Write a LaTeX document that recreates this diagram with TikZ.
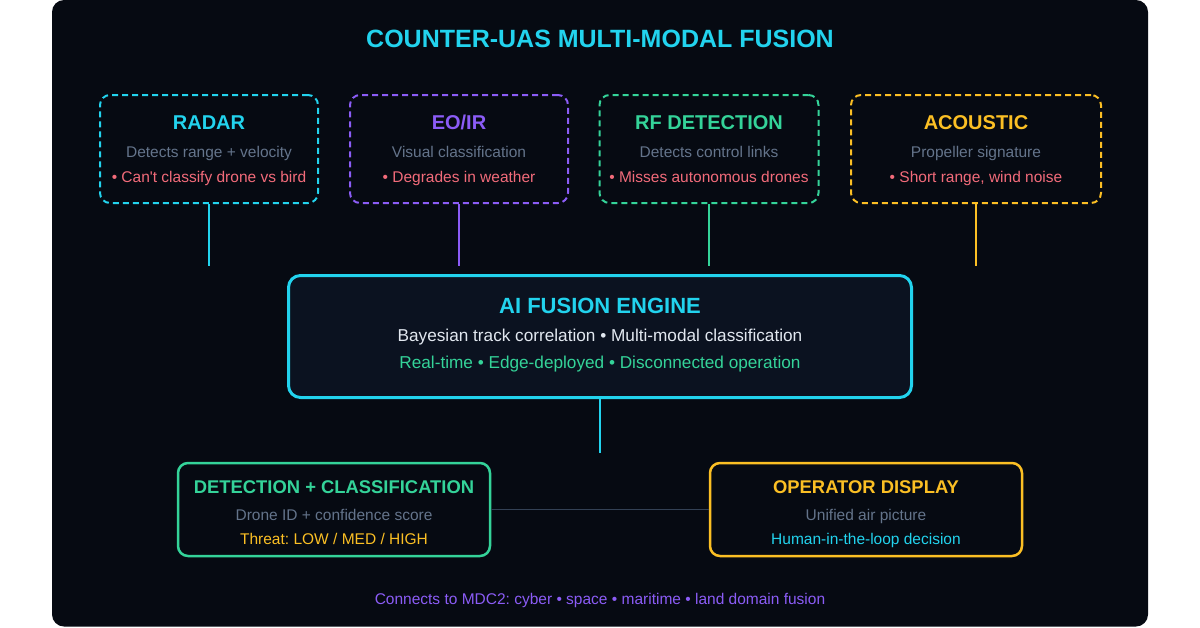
\documentclass[tikz,border=0pt]{standalone}
\usepackage{fontspec}
\setmainfont{Liberation Sans}
\frenchspacing
\usetikzlibrary{positioning}

\definecolor{panelbg}{HTML}{060A12}
\definecolor{enginebg}{HTML}{0B1220}
\definecolor{cyanc}{HTML}{22D3EE}
\definecolor{violetc}{HTML}{8B5CF6}
\definecolor{greenc}{HTML}{34D399}
\definecolor{amberc}{HTML}{FBBF24}
\definecolor{flawc}{HTML}{F26B7A}
\definecolor{greyc}{HTML}{64748B}
\definecolor{lightc}{HTML}{E2E8F0}
\definecolor{linkc}{HTML}{334155}

\begin{document}
\begin{tikzpicture}[
    x=1pt, y=-1pt,
    sensor/.style={rectangle, draw, dash pattern=on 6pt off 4pt, line width=2pt, rounded corners=10pt, minimum height=108pt, fill=panelbg},
    engine/.style={rectangle, draw=cyanc, line width=3pt, rounded corners=12pt, minimum width=623pt, minimum height=122pt, fill=enginebg},
    outcome/.style={rectangle, draw, line width=2.5pt, rounded corners=10pt, minimum width=312pt, minimum height=93pt, fill=panelbg},
    head/.style={anchor=base, inner sep=0pt, font=\fontsize{20}{24}\selectfont\bfseries},
    subhead/.style={anchor=base, inner sep=0pt, font=\fontsize{18.4}{22}\selectfont\bfseries},
    note/.style={anchor=base, inner sep=0pt, font=\fontsize{15.5}{19}\selectfont, text=greyc},
    flaw/.style={anchor=base, inner sep=0pt, font=\fontsize{15.5}{19}\selectfont, text=flawc},
    feed/.style={line width=1.5pt}
]
    \useasboundingbox (0,0) rectangle (1200,627);
    \fill[white] (0,0) rectangle (1200,627);
    \fill[panelbg, rounded corners=12pt] (52,0) rectangle (1148,626.5);

    \node[anchor=base, inner sep=0pt, font=\fontsize{25}{30}\selectfont\bfseries, text=cyanc] (title) at (600,47) {COUNTER-UAS MULTI-MODAL FUSION};

    % Sensors
    \node[sensor, draw=cyanc, minimum width=218pt] (radar) at (209,149) {};
    \node[sensor, draw=violetc, minimum width=218pt] (eoir) at (459,149) {};
    \node[sensor, draw=greenc, minimum width=219pt] (rf) at (709,149) {};
    \node[sensor, draw=amberc, minimum width=250pt] (acoustic) at (976,149) {};

    \node[head, text=cyanc] (radar-name) at (209,129) {RADAR};
    \node[note] (radar-does) at (209,157) {Detects range + velocity};
    \node[flaw] (radar-flaw) at (209,182) {• Can\textquotesingle t classify drone vs bird};

    \node[head, text=violetc] (eoir-name) at (459,129) {EO/IR};
    \node[note] (eoir-does) at (459,157) {Visual classification};
    \node[flaw] (eoir-flaw) at (459,182) {• Degrades in weather};

    \node[head, text=greenc] (rf-name) at (709,129) {RF DETECTION};
    \node[note] (rf-does) at (709,157) {Detects control links};
    \node[flaw] (rf-flaw) at (709,182) {• Misses autonomous drones};

    \node[head, text=amberc] (acoustic-name) at (976,129) {ACOUSTIC};
    \node[note] (acoustic-does) at (976,157) {Propeller signature};
    \node[flaw] (acoustic-flaw) at (976,182) {• Short range, wind noise};

    \coordinate (radar-end) at (209,266);
    \coordinate (eoir-end) at (459,266);
    \coordinate (rf-end) at (709,266);
    \coordinate (acoustic-end) at (976,266);
    \draw[feed, cyanc] (radar.south) -- (radar-end);
    \draw[feed, violetc] (eoir.south) -- (eoir-end);
    \draw[feed, greenc] (rf.south) -- (rf-end);
    \draw[feed, amberc] (acoustic.south) -- (acoustic-end);

    % Fusion engine
    \node[engine] (fusion) at (600,336.5) {};
    \node[anchor=base, inner sep=0pt, font=\fontsize{22}{26}\selectfont\bfseries, text=cyanc] (fusion-name) at (600,313) {AI FUSION ENGINE};
    \node[anchor=base, inner sep=0pt, font=\fontsize{17.2}{21}\selectfont, text=lightc] (fusion-how) at (600,341.5) {Bayesian track correlation • Multi-modal classification};
    \node[anchor=base, inner sep=0pt, font=\fontsize{17.2}{21}\selectfont, text=greenc] (fusion-where) at (600,368) {Real-time • Edge-deployed • Disconnected operation};

    \coordinate (fusion-end) at (600,453);
    \draw[line width=2.5pt, cyanc] (fusion.south) -- (fusion-end);

    % Outputs
    \node[outcome, draw=greenc] (detect) at (334,509.5) {};
    \node[outcome, draw=amberc] (operator) at (866,509.5) {};
    \draw[line width=1pt, linkc] (detect) -- (operator);

    \node[subhead, text=greenc] (detect-name) at (334,493.5) {DETECTION + CLASSIFICATION};
    \node[note] (detect-id) at (334,520.5) {Drone ID + confidence score};
    \node[note, text=amberc] (detect-threat) at (334,544) {Threat: LOW / MED / HIGH};

    \node[subhead, text=amberc] (operator-name) at (866,493.5) {OPERATOR DISPLAY};
    \node[note] (operator-view) at (866,520.5) {Unified air picture};
    \node[note, text=cyanc] (operator-call) at (866,544) {Human-in-the-loop decision};

    \node[note, text=violetc] (footer) at (600,604) {Connects to MDC2: cyber • space • maritime • land domain fusion};
\end{tikzpicture}
\end{document}
